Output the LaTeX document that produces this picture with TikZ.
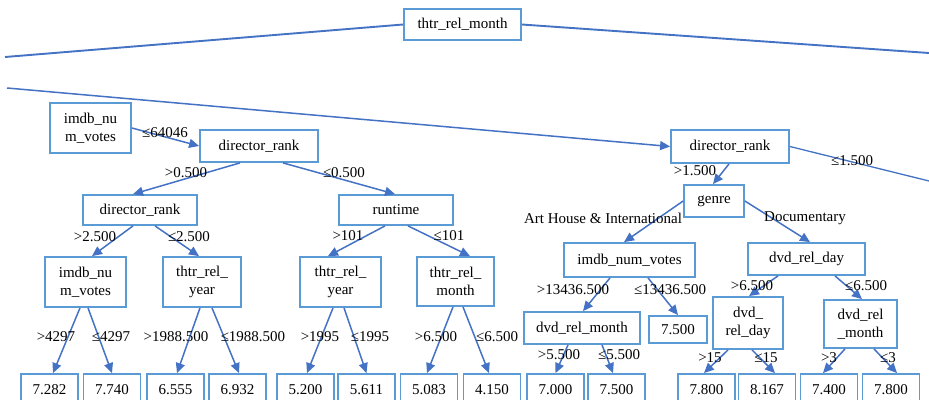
\documentclass[tikz,border=0pt]{standalone}
\usepackage{fontspec}
\setmainfont{Liberation Serif}
\usepackage{tikz}
\usetikzlibrary{positioning,arrows.meta}
\definecolor{boxblue}{HTML}{5B9BD5}
\definecolor{edgeblue}{HTML}{4472C4}
\tikzstyle{box}=[rectangle, draw=boxblue, line width=1.8pt, inner sep=0pt, align=center, font=\fontsize{15}{18}\selectfont]
\tikzstyle{leaf}=[box, minimum width=57pt, minimum height=32pt]
\tikzstyle{lab}=[inner sep=0pt, font=\fontsize{15}{18}\selectfont]
\tikzstyle{edge}=[draw=edgeblue, line width=1.5pt, -{Triangle[length=10pt,width=9pt]}]
\tikzstyle{cut}=[draw=edgeblue, line width=1.9pt]

\begin{document}
\begin{tikzpicture}[x=1pt, y=-1pt]
				\useasboundingbox (0,0) rectangle (929,399);
				% split nodes
				\node[box, minimum width=117pt, minimum height=31pt] (trm) at (462.5, 24.5) {thtr\_rel\_month};
				\node[box, minimum width=81pt, minimum height=50pt] (imv) at (90.5, 128) {imdb\_nu\\m\_votes};
				\node[box, minimum width=118pt, minimum height=32pt] (dr) at (259, 146) {director\_rank};
				\node[box, minimum width=118pt, minimum height=33pt] (drr) at (730, 146.5) {director\_rank};
				\node[box, minimum width=114pt, minimum height=30pt] (dr2) at (140, 210) {director\_rank};
				\node[box, minimum width=114pt, minimum height=30pt] (rt) at (396, 210) {runtime};
				\node[box, minimum width=60pt, minimum height=32pt] (gen) at (714, 201) {genre};
				\node[box, minimum width=81pt, minimum height=50pt] (imv2) at (85.5, 282) {imdb\_nu\\m\_votes};
				\node[box, minimum width=78pt, minimum height=50pt] (try) at (202, 282) {thtr\_rel\_\\year};
				\node[box, minimum width=81pt, minimum height=50pt] (try2) at (340.5, 282) {thtr\_rel\_\\year};
				\node[box, minimum width=77pt, minimum height=49pt] (trm2) at (455.5, 281.5) {thtr\_rel\_\\month};
				\node[box, minimum width=131pt, minimum height=34pt] (imv3) at (629.5, 260) {imdb\_num\_votes};
				\node[box, minimum width=117pt, minimum height=32pt] (drd) at (806.5, 259) {dvd\_rel\_day};
				\node[box, minimum width=116pt, minimum height=32pt] (drm) at (582, 328) {dvd\_rel\_month};
				\node[box, minimum width=58pt, minimum height=27pt] (lf15) at (678, 329.5) {7.500};
				\node[box, minimum width=70pt, minimum height=52pt] (drd2) at (748, 323) {dvd\_\\rel\_day};
				\node[box, minimum width=73pt, minimum height=48pt] (drm2) at (860.5, 324) {dvd\_rel\\\_month};
				% leaves
				\node[leaf] (lf1) at (49.5, 390) {7.282};
				\node[leaf] (lf2) at (112, 390) {7.740};
				\node[leaf] (lf3) at (175.5, 390) {6.555};
				\node[leaf] (lf4) at (237.5, 390) {6.932};
				\node[leaf] (lf5) at (305.5, 390) {5.200};
				\node[leaf] (lf6) at (366.5, 390) {5.611};
				\node[leaf] (lf7) at (429, 390) {5.083};
				\node[leaf] (lf8) at (492, 390) {4.150};
				\node[leaf] (lf9) at (555.5, 390) {7.000};
				\node[leaf] (lf10) at (616.5, 390) {7.500};
				\node[leaf] (lf11) at (706.5, 390) {7.800};
				\node[leaf] (lf12) at (767, 390) {8.167};
				\node[leaf] (lf13) at (829, 390) {7.400};
				\node[leaf] (lf14) at (891, 390) {7.800};
				% ends of edges running off the page
				\coordinate (offL) at (5, 57);
				\coordinate (offR) at (929, 53);
				\coordinate (offA) at (7, 88);
				\coordinate (offB) at (929, 181);
				\draw[cut](trm.west) -- (offL);
				\draw[cut](trm.east) -- (offR);
				\draw[edge](offA) -- (drr.west);
				\draw[cut, line width=1.3pt](drr.east) -- (offB);
				\draw[edge](imv.east) -- (dr.west);
				\draw[edge]([xshift=-19pt]dr.south) -- ([xshift=-7pt]dr2.north);
				\draw[edge]([xshift=24pt]dr.south) -- ([xshift=-1pt]rt.north);
				\draw[edge]([xshift=-7pt]dr2.south) -- ([xshift=6.5pt]imv2.north);
				\draw[edge]([xshift=15pt]dr2.south) -- ([xshift=-3pt]try.north);
				\draw[edge]([xshift=-11pt]rt.south) -- ([xshift=-12.5pt]try2.north);
				\draw[edge]([xshift=12pt]rt.south) -- ([xshift=14.5pt]trm2.north);
				\draw[edge]([xshift=-5.5pt]imv2.south) -- ([xshift=3.5pt]lf1.north);
				\draw[edge]([xshift=2.5pt]imv2.south) -- (lf2.north);
				\draw[edge]([xshift=-2pt]try.south) -- ([xshift=1.5pt]lf3.north);
				\draw[edge]([xshift=10pt]try.south) -- ([xshift=1.5pt]lf4.north);
				\draw[edge]([xshift=-7.5pt]try2.south) -- ([xshift=1.5pt]lf5.north);
				\draw[edge]([xshift=3.5pt]try2.south) -- (lf6.north);
				\draw[edge]([xshift=-2.5pt]trm2.south) -- ([xshift=-2pt]lf7.north);
				\draw[edge]([xshift=7.5pt]trm2.south) -- ([xshift=-3pt]lf8.north);
				\draw[edge]([xshift=-1pt]drr.south) -- ([xshift=-1pt]gen.north);
				\draw[edge](gen.west) -- ([xshift=-5.5pt]imv3.north);
				\draw[edge](gen.east) -- ([xshift=3.5pt]drd.north);
				\draw[edge]([xshift=-19.5pt]imv3.south) -- ([xshift=1pt]drm.north);
				\draw[edge]([xshift=18.5pt]imv3.south) -- (lf15.north);
				\draw[edge]([xshift=-28.5pt]drd.south) -- ([xshift=1pt]drd2.north);
				\draw[edge]([xshift=28.5pt]drd.south) -- ([xshift=1.5pt]drm2.north);
				\draw[edge]([xshift=-14pt]drm.south) -- (lf9.north);
				\draw[edge]([xshift=20pt]drm.south) -- ([xshift=-3.5pt]lf10.north);
				\draw[edge]([xshift=-20pt]drd2.south) -- ([xshift=-2.5pt]lf11.north);
				\draw[edge]([xshift=4pt]drd2.south) -- ([xshift=8pt]lf12.north);
				\draw[edge]([xshift=-15.5pt]drm2.south) -- ([xshift=-6pt]lf13.north);
				\draw[edge]([xshift=13.5pt]drm2.south) -- ([xshift=6pt]lf14.north);
				% edge labels
				\node[lab] (c1) at (165, 133) {≤64046};
				\node[lab] (c2) at (186, 173) {>0.500};
				\node[lab] (c3) at (344, 173) {≤0.500};
				\node[lab] (c4) at (95, 237) {>2.500};
				\node[lab] (c5) at (189, 237) {≤2.500};
				\node[lab] (c6) at (348, 236) {>101};
				\node[lab] (c7) at (449, 236) {≤101};
				\node[lab] (c8) at (56, 337) {>4297};
				\node[lab] (c9) at (111, 337) {≤4297};
				\node[lab] (c10) at (176, 337) {>1988.500};
				\node[lab] (c11) at (253, 337) {≤1988.500};
				\node[lab] (c12) at (320, 337) {>1995};
				\node[lab] (c13) at (370, 337) {≤1995};
				\node[lab] (c14) at (436, 337) {>6.500};
				\node[lab] (c15) at (497, 337) {≤6.500};
				\node[lab] (c16) at (695, 171) {>1.500};
				\node[lab] (c17) at (852, 161) {≤1.500};
				\node[lab] (c18) at (603, 218) {Art House \& International};
				\node[lab] (c19) at (805, 218) {Documentary};
				\node[lab] (c20) at (573, 290) {>13436.500};
				\node[lab] (c21) at (670, 290) {≤13436.500};
				\node[lab] (c22) at (752, 286) {>6.500};
				\node[lab] (c23) at (866, 286) {≤6.500};
				\node[lab] (c24) at (559, 355) {>5.500};
				\node[lab] (c25) at (619, 355) {≤5.500};
				\node[lab] (c26) at (710, 358) {>15};
				\node[lab] (c27) at (766, 358) {≤15};
				\node[lab] (c28) at (829, 358) {>3};
				\node[lab] (c29) at (888, 358) {≤3};
			\end{tikzpicture}
\end{document}
